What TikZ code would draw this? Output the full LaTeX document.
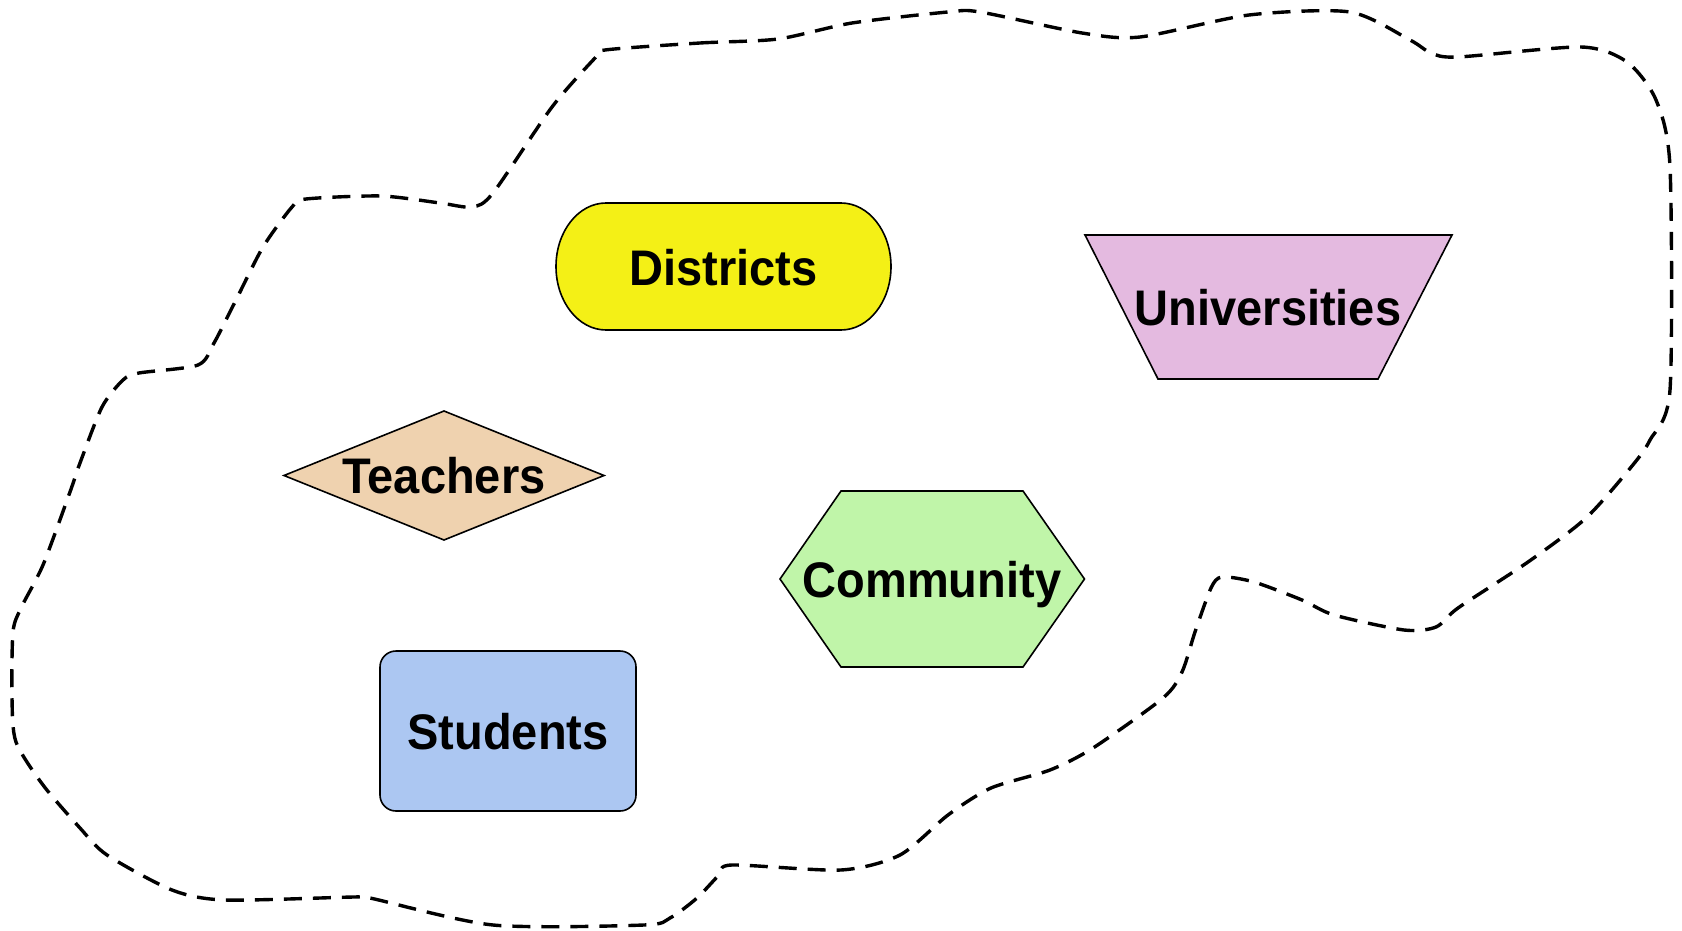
\documentclass[tikz,border=0pt]{standalone}
\usepackage{fontspec}
\setmainfont{Liberation Sans}[FakeStretch=0.94]
\begin{document}
\begin{tikzpicture}[x=1pt,y=-1pt,
  shapeborder/.style={draw=black,line width=1.6pt,line join=miter},
  lbl/.style={font=\fontsize{50}{60}\selectfont\bfseries,inner sep=0pt,text=black,anchor=base},
  boundary/.style={draw=black,line width=3.4pt,dash pattern=on 18pt off 11pt}]
\definecolor{cDistricts}{RGB}{244,240,22}
\definecolor{cUniv}{RGB}{228,186,224}
\definecolor{cTeach}{RGB}{239,210,175}
\definecolor{cComm}{RGB}{192,245,169}
\definecolor{cStud}{RGB}{172,199,242}
\useasboundingbox[fill=white] (0,0) rectangle (1682,931);

% dashed boundary
\draw[boundary] plot[smooth cycle,tension=0.45] coordinates {
 (605,50) (700,43) (778,39) (852,23) (948,12) (980,12) (1082,33) (1140,37)
 (1249,15) (1350,12) (1410,40) (1431,53) (1458,57) (1581,47) (1627,62)
 (1656,100) (1670,167) (1670,390) (1650,440) (1632,466) (1586,518)
 (1528,562) (1458,608) (1436,627) (1404,630) (1334,615) (1302,600)
 (1254,582) (1222,577) (1211,588) (1195,632) (1182,672) (1163,698)
 (1093,748) (1050,770) (991,788) (948,815) (900,855) (841,870)
 (732,865) (719,875) (697,898) (670,918) (644,925) (493,925) (370,898)
 (354,897) (225,900) (172,890) (107,855) (80,828) (43,785) (16,742)
 (12,698) (13,632) (21,608) (43,565) (70,492) (80,463) (102,407)
 (123,380) (139,373) (198,365) (214,343) (236,300) (263,247) (292,207)
 (306,199) (381,196) (440,203) (472,207) (493,193) (552,107) (595,58)};

% Districts (stadium)
\draw[shapeborder,fill=cDistricts]
  (606,203) -- (841,203)
  .. controls (868.6,203) and (891,231.4) .. (891,266.5)
  .. controls (891,301.6) and (868.6,330) .. (841,330)
  -- (606,330)
  .. controls (578.4,330) and (556,301.6) .. (556,266.5)
  .. controls (556,231.4) and (578.4,203) .. cycle;
\node[lbl] (districts) at (723.5,285) {Districts};

% Universities (inverted trapezoid)
\draw[shapeborder,fill=cUniv] (1085,235) -- (1452,235) -- (1378,379) -- (1158,379) -- cycle;
\node[lbl] (universities) at (1268,325) {Universities};

% Teachers (diamond)
\draw[shapeborder,fill=cTeach] (284,475.5) -- (444,411) -- (604,475.5) -- (444,540) -- cycle;
\node[lbl] (teachers) at (444,493.5) {Teachers};

% Community (hexagon)
\draw[shapeborder,fill=cComm] (780,579) -- (841,491) -- (1023,491) -- (1084.5,579) -- (1023,667) -- (841,667) -- cycle;
\node[lbl] (community) at (932,597.5) {Community};

% Students (rounded rectangle)
\draw[shapeborder,fill=cStud,rounded corners=16pt] (380,651) rectangle (636,811);
\node[lbl] (students) at (508,749.5) {Students};
\end{tikzpicture}
\end{document}
